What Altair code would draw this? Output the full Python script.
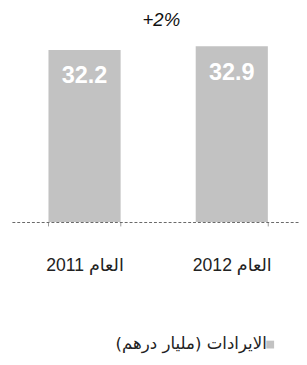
import altair as alt
import pandas as pd

RLM = "\u200f"

years = ["العام 2011", "العام 2012"]
revenue = [32.2, 32.9]
value_labels = ["32.2", "32.9"]
series_name = RLM + "الايرادات (مليار درهم)" + RLM
change_label = "+2%"

df = pd.DataFrame({
    "year": years,
    "revenue": revenue,
    "label": value_labels,
    "series": [series_name] * len(years),
})

FONT = "Liberation Sans, DejaVu Sans"

x = alt.X(
    "year:N", sort=years, title=None,
    scale=alt.Scale(paddingInner=0.51, paddingOuter=0.23, align=0.54),
    axis=alt.Axis(
        labelAngle=0, labelFontSize=18, labelColor="#222", labelFont=FONT,
        labelPadding=32, tickSize=4, tickBand="extent", tickColor="#999",
        domainColor="#666", domainDash=[3, 2], domainWidth=1,
    ),
)
y = alt.Y("revenue:Q", scale=alt.Scale(domain=[0, 35.3]), axis=None)

bars = alt.Chart(df).mark_bar().encode(
    x=x, y=y,
    color=alt.Color(
        "series:N",
        scale=alt.Scale(range=["#c2c2c2"]),
        legend=alt.Legend(
            title=None, orient="none", legendX=256, legendY=310,
            symbolType="square", symbolSize=64, symbolStrokeWidth=0,
            labelFont="DejaVu Sans", labelFontSize=17, labelAlign="right",
            labelOffset={"expr": "-12"}, labelColor="#222", labelLimit=300,
        ),
    ),
)

labels = alt.Chart(df).mark_text(
    dy=27, fontSize=24, fontWeight="bold", color="white", font=FONT, baseline="middle"
).encode(x=x, y=y, text="label:N")

chart = (bars + labels).properties(
    width=294, height=193,
    padding={"left": 4, "top": 22, "right": 0, "bottom": 132},
    autosize="none",
    title=alt.Title(
        change_label, fontSize=19, fontStyle="italic", fontWeight="normal",
        font=FONT, color="#111", anchor="middle", offset=3, baseline="bottom",
        dx=6, dy=18, frame="group",
    ),
).configure(background="white").configure_view(stroke=None)

chart.save("out.html", embed_options={"renderer": "svg", "actions": False})
